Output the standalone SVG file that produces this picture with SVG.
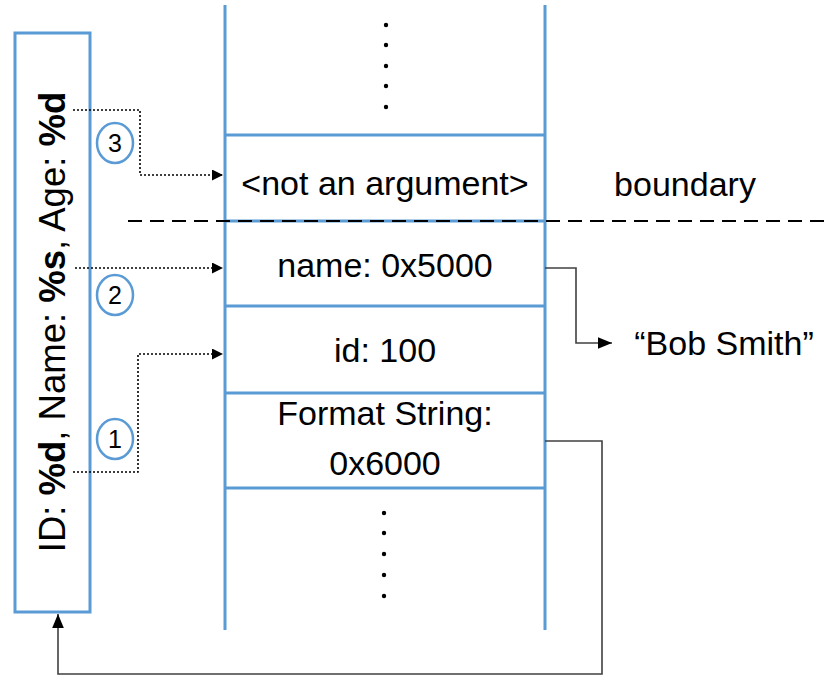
<svg xmlns="http://www.w3.org/2000/svg" width="830" height="679" viewBox="0 0 830 679">
<defs>
<style>
.blue{stroke:#5B9BD5;stroke-width:3;fill:none}
.t{font-family:"Liberation Sans",Arial,sans-serif;font-size:34px;fill:#000;text-anchor:middle}
.dot{stroke:#000;stroke-width:1.6;stroke-dasharray:2 2;fill:none}
.conn{stroke:#404040;stroke-width:1.6;fill:none}
.circ{stroke:#5B9BD5;stroke-width:2.5;fill:#fff}
.num{font-family:"Liberation Sans",Arial,sans-serif;font-size:25px;fill:#000;text-anchor:middle}
</style>
<marker id="ah" viewBox="0 0 10 10" refX="10" refY="5" markerWidth="11" markerHeight="11" markerUnits="userSpaceOnUse" orient="auto">
<path d="M0,0 L10,5 L0,10 z" fill="#000"/>
</marker>
<marker id="ah2" viewBox="0 0 12 10" refX="12" refY="5" markerWidth="14" markerHeight="12" markerUnits="userSpaceOnUse" orient="auto">
<path d="M0,0 L12,5 L0,10 z" fill="#000"/>
</marker>
</defs>
<rect width="830" height="679" fill="#fff"/>

<g id="stack">
<line class="blue" x1="225" y1="5" x2="225" y2="630"/>
<line class="blue" x1="545" y1="5" x2="545" y2="630"/>
<line class="blue" x1="225" y1="135" x2="545" y2="135"/>
<line class="blue" x1="225" y1="221" x2="545" y2="221"/>
<line class="blue" x1="225" y1="306" x2="545" y2="306"/>
<line class="blue" x1="225" y1="393" x2="545" y2="393"/>
<line class="blue" x1="225" y1="488" x2="545" y2="488"/>
<g fill="#000">
<circle cx="386" cy="25" r="2.2"/><circle cx="386" cy="45" r="2.2"/><circle cx="386" cy="66" r="2.2"/><circle cx="386" cy="86" r="2.2"/><circle cx="386" cy="107" r="2.2"/>
<circle cx="384" cy="513" r="2.2"/><circle cx="384" cy="533" r="2.2"/><circle cx="384" cy="554" r="2.2"/><circle cx="384" cy="575" r="2.2"/><circle cx="384" cy="596" r="2.2"/>
</g>
</g>
<g id="cell-not-arg"><text class="t" x="385" y="195">&lt;not an argument&gt;</text></g>
<g id="cell-name"><text class="t" x="385" y="277">name: 0x5000</text></g>
<g id="cell-id"><text class="t" x="385" y="362">id: 100</text></g>
<g id="cell-format"><text class="t" x="385" y="425">Format String:</text><text class="t" x="385" y="475">0x6000</text></g>

<g id="format-box">
<rect class="blue" x="15" y="33" width="75" height="579"/>
<text class="t" style="font-size:36.5px" transform="translate(65,322) rotate(-90)">ID: <tspan font-weight="bold">%d</tspan>, Name: <tspan font-weight="bold">%s</tspan>, Age: <tspan font-weight="bold">%d</tspan></text>
</g>

<g id="boundary-label"><text class="t" x="685" y="196">boundary</text></g>
<g id="bob"><text class="t" x="724" y="355">“Bob Smith”</text></g>

<g id="connectors">
<line x1="128" y1="221" x2="830" y2="221" stroke="#000" stroke-width="2" stroke-dasharray="14 8"/>
<polyline class="dot" points="73,110 140,110 140,175 223,175" marker-end="url(#ah)"/>
<line class="dot" x1="75" y1="268" x2="223" y2="268" marker-end="url(#ah)"/>
<polyline class="dot" points="73,472 138,472 138,354 223,354" marker-end="url(#ah)"/>
<polyline class="conn" points="545,268 576,268 576,343 612,343" marker-end="url(#ah2)"/>
<polyline class="conn" points="545,441 602,441 602,674 58,674 58,614" marker-end="url(#ah2)"/>
</g>

<g id="step3"><ellipse class="circ" cx="115" cy="143" rx="18" ry="20"/><text class="num" x="115" y="152">3</text></g>
<g id="step2"><ellipse class="circ" cx="115" cy="295" rx="18" ry="20"/><text class="num" x="115" y="304">2</text></g>
<g id="step1"><ellipse class="circ" cx="115" cy="439" rx="18" ry="20"/><text class="num" x="115" y="448">1</text></g>
</svg>
